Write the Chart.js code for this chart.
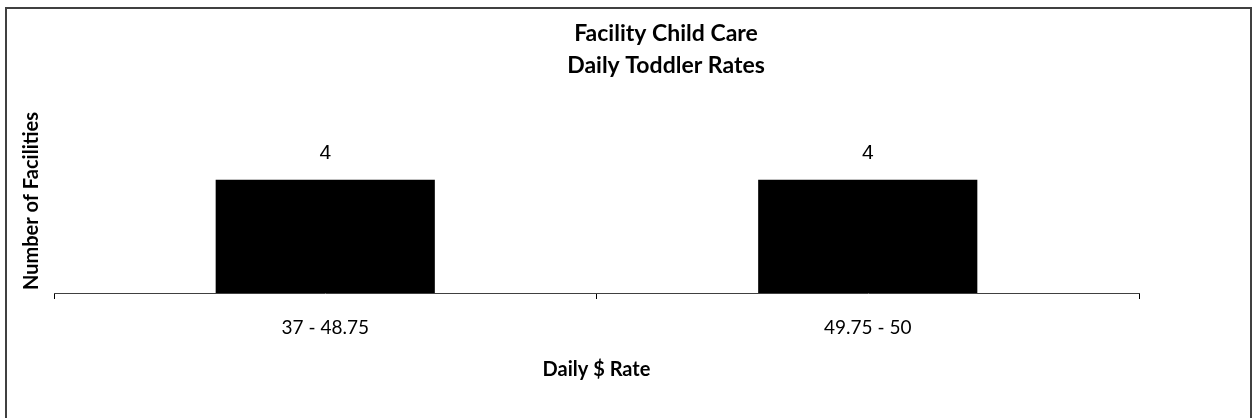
<!DOCTYPE html>
<html>
<head>
<meta charset="utf-8">
<script src="https://cdn.jsdelivr.net/npm/chart.js@4.4.1/dist/chart.umd.min.js"></script>
<style>
  html, body { margin: 0; padding: 0; background: #fff; }
  #wrap { position: relative; width: 1252px; height: 418px; overflow: hidden; }
  #frame {
    position: absolute; left: 5px; top: 7px; width: 1247px; height: 430px;
    box-sizing: border-box; border: 2px solid #404040;
  }
  canvas { position: absolute; left: 0; top: 0; }
</style>
</head>
<body>
<div id="wrap">
  <div id="frame"></div>
  <canvas id="myChart" width="1252" height="418"></canvas>
</div>
<script>
// chart data
const categories = ['37 - 48.75', '49.75 - 50'];
const facilities = [4, 4];
const titleLines = ['Facility Child Care', 'Daily Toddler Rates'];

const FONT = 'Lato, Calibri, "Liberation Sans", sans-serif';

// value above each bar (no datalabels plugin here)
const valueLabels = {
  id: 'valueLabels',
  afterDatasetsDraw(chart) {
    const ctx = chart.ctx;
    const meta = chart.getDatasetMeta(0);
    ctx.save();
    ctx.font = '21px "Liberation Sans", Arial, sans-serif';
    ctx.fillStyle = '#000';
    ctx.textAlign = 'center';
    ctx.textBaseline = 'middle';
    meta.data.forEach((bar, i) => {
      ctx.fillText(String(chart.data.datasets[0].data[i]), bar.x, bar.y - 27);
    });
    ctx.restore();
  }
};

// title sits a bit right of the plot centre in the original, so draw it by hand
const chartTitle = {
  id: 'chartTitle',
  afterDraw(chart) {
    const ctx = chart.ctx;
    ctx.save();
    ctx.font = 'bold 23px ' + FONT;
    ctx.fillStyle = '#000';
    ctx.textAlign = 'center';
    ctx.textBaseline = 'middle';
    titleLines.forEach((line, i) => {
      ctx.fillText(line, 666, 34 + i * 32);
    });
    ctx.restore();
  }
};

const ctx = document.getElementById('myChart').getContext('2d');
new Chart(ctx, {
  type: 'bar',
  data: {
    labels: categories,
    datasets: [{
      data: facilities,
      backgroundColor: '#000',
      borderWidth: 0,
      categoryPercentage: 1,
      barPercentage: 0.404
    }]
  },
  options: {
    responsive: false,
    animation: false,
    layout: {
      padding: { left: 6, right: 113, top: 109, bottom: 0 }
    },
    scales: {
      x: {
        grid: {
          display: true,
          offset: true,
          drawOnChartArea: false,
          drawTicks: true,
          tickLength: 6,
          color: '#000',
          lineWidth: 1
        },
        border: { display: true, color: '#404040', width: 1 },
        ticks: {
          padding: 17,
          color: '#000',
          font: { family: FONT, size: 19 }
        },
        title: {
          display: true,
          text: 'Daily $ Rate',
          color: '#000',
          font: { family: FONT, size: 20, weight: 'bold' },
          padding: { top: 0, bottom: 36 }
        },
        afterFit: s => { s.height = 125; }
      },
      y: {
        beginAtZero: true,
        min: 0,
        max: 6.5,
        grid: { display: false },
        border: { display: false },
        ticks: { display: false },
        title: {
          display: true,
          text: 'Number of Facilities',
          color: '#000',
          font: { family: FONT, size: 20, weight: 'bold' },
          padding: { top: 14, bottom: 0 }
        },
        afterFit: s => { s.width = 48; }
      }
    },
    plugins: {
      legend: { display: false },
      tooltip: { enabled: false },
      title: { display: false }
    }
  },
  plugins: [valueLabels, chartTitle]
});
</script>
</body>
</html>
